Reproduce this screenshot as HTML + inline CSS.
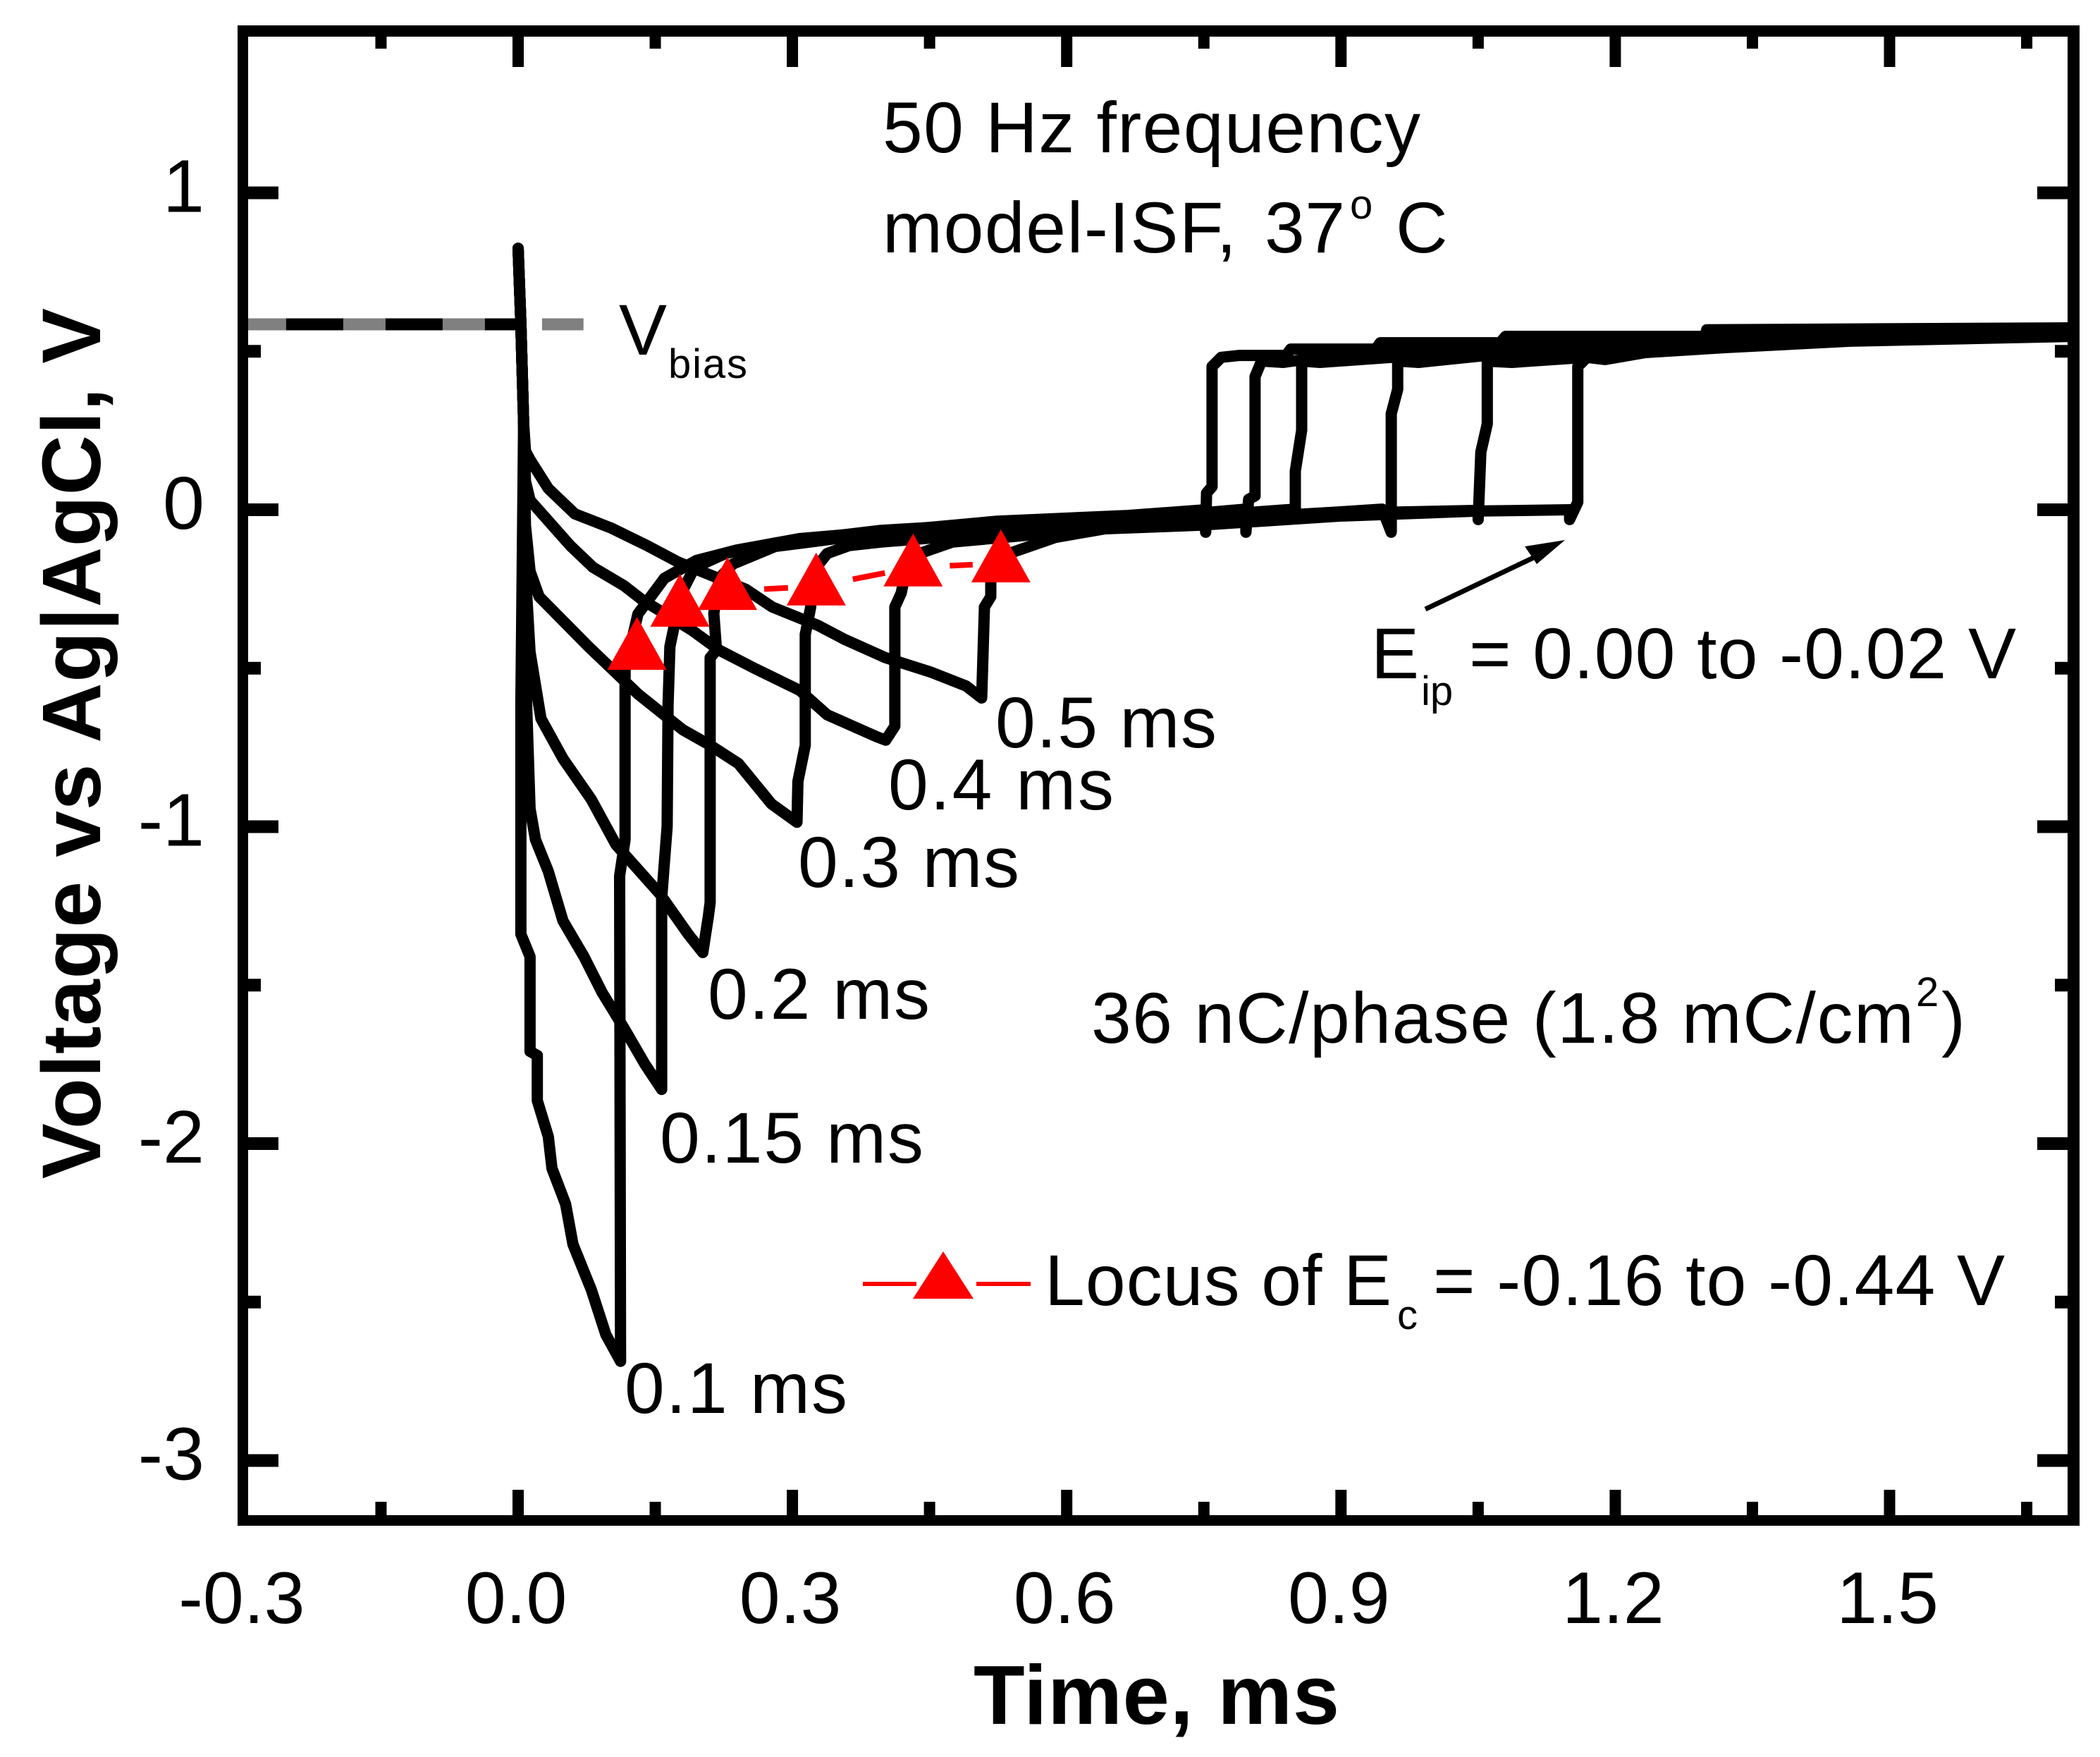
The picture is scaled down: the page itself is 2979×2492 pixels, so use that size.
<!DOCTYPE html>
<html lang="en">
<head>
<meta charset="utf-8">
<title>Voltage transients at varying pulse widths</title>
<style>
html,body{margin:0;padding:0;background:#fff;}
svg{display:block;}
text{font-family:"Liberation Sans",Arial,sans-serif;fill:#000;}
</style>
</head>
<body>
<svg id="chart" xmlns="http://www.w3.org/2000/svg" width="2979" height="2492" viewBox="0 0 2979 2492">
  <rect x="0" y="0" width="2979" height="2492" fill="#fff"/>
  <g id="traces"></g>
  <g id="bias"></g>
  <g id="locus"></g>
  <g id="axes"></g>

  <text transform="translate(142,1672) rotate(-90)" font-size="118" font-weight="700" textLength="1235">Voltage vs Ag|AgCl, V</text>
  <text x="1381" y="2445" font-size="119" font-weight="700" textLength="519">Time, ms</text>

  <text x="1252" y="216" font-size="102" textLength="763">50 Hz frequency</text>
  <text x="1252" y="358" font-size="102" textLength="502">model-ISF,</text>
  <text x="1794" y="358" font-size="102" textLength="114">37</text>
  <text x="1915" y="310" font-size="58">o</text>
  <text x="1980" y="358" font-size="102">C</text>

  <text x="878" y="503" font-size="102">V</text>
  <text x="948" y="536" font-size="58" textLength="112">bias</text>

  <text x="1412" y="1060" font-size="102" textLength="314">0.5 ms</text>
  <text x="1260" y="1148" font-size="102" textLength="320">0.4 ms</text>
  <text x="1132" y="1258" font-size="102" textLength="314">0.3 ms</text>
  <text x="1004" y="1445" font-size="102" textLength="315">0.2 ms</text>
  <text x="936" y="1649" font-size="102" textLength="374">0.15 ms</text>
  <text x="886" y="2004" font-size="102" textLength="316">0.1 ms</text>

  <text x="1945" y="962" font-size="102">E</text>
  <text x="2016" y="1000" font-size="58">ip</text>
  <text x="2084" y="962" font-size="102" textLength="776">= 0.00 to -0.02 V</text>
  <line x1="2022" y1="864" x2="2190" y2="784" stroke="#000" stroke-width="7"/>
  <polygon points="2220,766 2163,775 2180,800" fill="#000"/>

  <text x="1548" y="1479" font-size="102" textLength="1167">36 nC/phase (1.8 mC/cm</text>
  <text x="2718" y="1427" font-size="58">2</text>
  <text x="2754" y="1479" font-size="102">)</text>

  <line x1="1224" y1="1821" x2="1300" y2="1821" stroke="#ff0000" stroke-width="6"/>
  <polygon points="1338,1775 1295,1842 1381,1842" fill="#ff0000"/>
  <line x1="1385" y1="1821" x2="1462" y2="1821" stroke="#ff0000" stroke-width="6"/>
  <text x="1482" y="1851" font-size="102" textLength="492">Locus of E</text>
  <text x="1982" y="1885" font-size="58">c</text>
  <text x="2033" y="1851" font-size="102" textLength="811">= -0.16 to -0.44 V</text>
</svg>

<script>
// Axis ticks
const xMajorTicks = [-0.3, 0, 0.3, 0.6, 0.9, 1.2, 1.5];
const xMinorTicks = [-0.15, 0.15, 0.45, 0.75, 1.05, 1.35, 1.65];
const xTickLabels = ["-0.3", "0.0", "0.3", "0.6", "0.9", "1.2", "1.5"];
const yMajorTicks = [1, 0, -1, -2, -3];
const yMinorTicks = [0.5, -0.5, -1.5, -2.5];
const yTickLabels = ["1", "0", "-1", "-2", "-3"];

// Voltage traces, time in ms and voltage in V
const pulseWidths = ["0.5", "0.4", "0.3", "0.2", "0.15", "0.1"];
const time05 = [0,.003,.006,.008,.013,.033,.062,.102,.141,.175,.249,.278,.328,.357,.402,.451,.490,.507,.510,.517,.517,.526,.559,.588,.642,.744,.898,1.052,1.150,1.150,1.159,1.159,1.169,1.189,1.233,1.322,1.457,1.70];
const volt05 = [.825,.585,.274,.185,.158,.067,-.013,-.058,-.113,-.165,-.251,-.307,-.365,-.409,-.467,-.512,-.556,-.594,-.307,-.274,-.227,-.149,-.116,-.087,-.06,-.049,-.02,-.004,0,-.031,.024,.452,.481,.474,.496,.512,.532,.547];
const time04 = [0,.003,.006,.008,.013,.057,.082,.116,.136,.190,.220,.259,.308,.338,.392,.402,.412,.412,.419,.424,.428,.475,.551,.642,.744,.898,1.050,1.050,1.053,1.060,1.060,1.087,1.189,1.284,1.457,1.70];
const volt04 = [.825,.585,.274,.09,.03,-.113,-.182,-.240,-.285,-.380,-.443,-.501,-.570,-.647,-.716,-.727,-.683,-.307,-.263,-.194,-.149,-.102,-.082,-.049,-.038,-.011,-.002,-.031,.182,.271,.469,.465,.485,.509,.534,.552];
const time03 = [0,.003,.006,.008,.013,.023,.077,.106,.131,.180,.210,.241,.277,.305,.306,.314,.314,.320,.322,.329,.338,.362,.397,.482,.59,.744,.898,.945,.955,.955,.962,.962,.985,1.052,1.207,1.361,1.70];
const volt03 = [.825,.585,.274,-.05,-.194,-.274,-.432,-.512,-.581,-.694,-.743,-.801,-.928,-.986,-.857,-.743,-.394,-.307,-.238,-.171,-.138,-.113,-.102,-.082,-.056,-.033,-.007,.002,-.071,.303,.380,.469,.465,.485,.509,.529,.556];
const time02 = [0,.003,.006,.008,.013,.025,.049,.080,.107,.155,.186,.202,.208,.210,.210,.217,.214,.220,.235,.281,.359,.513,.744,.850,.850,.857,.857,.877,.975,1.130,1.361,1.70];
const volt02 = [.825,.585,.274,-.2,-.449,-.659,-.785,-.914,-1.057,-1.212,-1.339,-1.397,-1.284,-1.239,-.467,-.443,-.327,-.216,-.171,-.116,-.087,-.056,-.02,.002,.122,.251,.469,.465,.485,.514,.541,.561];
const time015 = [0,.003,.006,.008,.013,.019,.033,.049,.072,.092,.116,.139,.157,.157,.163,.164,.166,.170,.175,.193,.227,.281,.397,.590,.744,.796,.796,.799,.806,.806,.813,.837,.898,1.052,1.207,1.438,1.70];
const volt015 = [.825,.585,.274,-.5,-.943,-1.041,-1.141,-1.297,-1.410,-1.524,-1.637,-1.751,-1.829,-1.226,-.999,-.616,-.432,-.376,-.283,-.182,-.138,-.105,-.065,-.033,-.011,.002,-.071,.033,.044,.42,.469,.465,.489,.507,.532,.554,.567];
const time01 = [0,.003,.006,.003,.003,.013,.013,.021,.021,.033,.037,.052,.060,.080,.096,.112,.111,.117,.117,.131,.160,.195,.239,.308,.426,.524,.667,.752,.752,.753,.759,.759,.769,.789,.84,.845,.938,.943,1.074,1.08,1.298,1.30,1.70];
const volt01 = [.825,.585,.274,-.616,-1.339,-1.410,-1.709,-1.722,-1.864,-1.978,-2.078,-2.191,-2.318,-2.461,-2.603,-2.687,-1.155,-1.041,-.505,-.329,-.216,-.16,-.127,-.091,-.062,-.036,-.018,0,-.071,.053,.073,.452,.481,.487,.487,.507,.507,.527,.527,.547,.547,.568,.574];
const traceTimes = [time05, time04, time03, time02, time015, time01];
const traceVolts = [volt05, volt04, volt03, volt02, volt015, volt01];

// Bias level and reference dash
const biasVoltage = 0.585;
const biasStartTime = -0.3;
const biasEndTime = 0;
const biasDashEndTime = 0.0715;

// Locus of Ec
const locusTimes = [0.130, 0.177, 0.229, 0.326, 0.432, 0.528];
const locusVolts = [-0.445, -0.309, -0.256, -0.242, -0.182, -0.169];

const SVG_NS = "http://www.w3.org/2000/svg";
const xScale = function (t) { return 735 + 1297 * t; };
const yScale = function (v) { return 723 - 449.5 * v; };

const tracesGroup = document.getElementById("traces");
const biasGroup = document.getElementById("bias");
const locusGroup = document.getElementById("locus");
const axesGroup = document.getElementById("axes");

traceTimes.forEach(function (times, s) {
  const volts = traceVolts[s];
  const pts = times.map(function (t, i) {
    return xScale(t).toFixed(1) + "," + yScale(volts[i]).toFixed(1);
  }).join(" ");
  const el = document.createElementNS(SVG_NS, "polyline");
  
  
  el.setAttribute("points", pts);
  el.setAttribute("fill", "none");
  el.setAttribute("stroke", "#000");
  el.setAttribute("stroke-width", "16");
  el.setAttribute("stroke-linejoin", "round");
  el.setAttribute("stroke-linecap", "round");
  tracesGroup.appendChild(el);
});

const biasBlack = document.createElementNS(SVG_NS, "line");


biasBlack.setAttribute("x1", xScale(biasStartTime));
biasBlack.setAttribute("x2", xScale(biasEndTime));
biasBlack.setAttribute("y1", yScale(biasVoltage));
biasBlack.setAttribute("y2", yScale(biasVoltage));
biasBlack.setAttribute("stroke", "#000");
biasBlack.setAttribute("stroke-width", "17");
biasGroup.appendChild(biasBlack);

const biasGray = document.createElementNS(SVG_NS, "line");


biasGray.setAttribute("x1", xScale(biasStartTime));
biasGray.setAttribute("x2", xScale(biasDashEndTime));
biasGray.setAttribute("y1", yScale(biasVoltage));
biasGray.setAttribute("y2", yScale(biasVoltage));
biasGray.setAttribute("stroke", "#808080");
biasGray.setAttribute("stroke-width", "17");
biasGray.setAttribute("stroke-dasharray", "60 81");
biasGroup.appendChild(biasGray);

locusTimes.forEach(function (t, i) {
  if (i === 0) return;
  const x0 = xScale(locusTimes[i - 1]);
  const y0 = yScale(locusVolts[i - 1]);
  const x1 = xScale(t);
  const y1 = yScale(locusVolts[i]);
  const dx = x1 - x0;
  if (dx <= 92) return;
  const seg = document.createElementNS(SVG_NS, "line");
  
  
  seg.setAttribute("x1", x0 + 52);
  seg.setAttribute("y1", y0 + (y1 - y0) * 52 / dx);
  seg.setAttribute("x2", x1 - 40);
  seg.setAttribute("y2", y1 - (y1 - y0) * 40 / dx);
  seg.setAttribute("stroke", "#ff0000");
  seg.setAttribute("stroke-width", "8");
  locusGroup.appendChild(seg);
});

locusTimes.forEach(function (t, i) {
  const cx = xScale(t);
  const cy = yScale(locusVolts[i]);
  const tri = document.createElementNS(SVG_NS, "polygon");
  
  
  tri.setAttribute("points", cx + "," + (cy - 48) + " " + (cx - 42) + "," + (cy + 27) + " " + (cx + 42) + "," + (cy + 27));
  tri.setAttribute("fill", "#ff0000");
  locusGroup.appendChild(tri);
});

function addRect(name, x, y, w, h) {
  const r = document.createElementNS(SVG_NS, "rect");
  
  
  r.setAttribute("x", x);
  r.setAttribute("y", y);
  r.setAttribute("width", w);
  r.setAttribute("height", h);
  r.setAttribute("fill", "#000");
  axesGroup.appendChild(r);
}

addRect("axis-left", 337, 36, 15, 2128);
addRect("axis-top", 337, 36, 2613, 16);
addRect("axis-right", 2933, 36, 17, 2128);
addRect("axis-bottom", 337, 2149, 2613, 15);

function addXTicks(values, topEnd, bottomStart, kind) {
  values.forEach(function (t) {
    const px = xScale(t);
    addRect("x-" + kind + "-tick-top", px - 8, 44, 16, topEnd - 44);
    addRect("x-" + kind + "-tick-bottom", px - 8, bottomStart, 16, 2156 - bottomStart);
  });
}
addXTicks(xMajorTicks.slice(1), 95, 2113, "major");
addXTicks(xMinorTicks, 69, 2130, "minor");

function addYTicks(values, leftEnd, rightStart, kind) {
  values.forEach(function (v) {
    const py = yScale(v);
    addRect("y-" + kind + "-tick-left", 344, py - 9, leftEnd - 344, 18);
    addRect("y-" + kind + "-tick-right", rightStart, py - 9, 2941 - rightStart, 18);
  });
}
addYTicks(yMajorTicks, 395, 2890, "major");
addYTicks(yMinorTicks, 370, 2915, "minor");

xMajorTicks.forEach(function (t, i) {
  const label = document.createElementNS(SVG_NS, "text");
  
  
  label.setAttribute("x", xScale(t) - 3);
  label.setAttribute("y", 2302);
  label.setAttribute("font-size", "104");
  label.setAttribute("text-anchor", "middle");
  label.textContent = xTickLabels[i];
  axesGroup.appendChild(label);
});

yMajorTicks.forEach(function (v, i) {
  const label = document.createElementNS(SVG_NS, "text");
  
  
  label.setAttribute("x", 290);
  label.setAttribute("y", yScale(v) + 27);
  label.setAttribute("font-size", "106");
  label.setAttribute("text-anchor", "end");
  label.textContent = yTickLabels[i];
  axesGroup.appendChild(label);
});
</script>
</body>
</html>
